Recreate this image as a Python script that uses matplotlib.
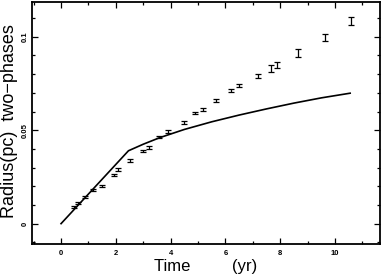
import matplotlib
matplotlib.use("Agg")
import matplotlib.pyplot as plt
from matplotlib.ticker import MultipleLocator

# measured radii with error bars
t_obs = [0.49, 0.63, 0.88, 1.16, 1.49, 1.92, 2.09, 2.51, 3.0, 3.22, 3.59, 3.92,
         4.48, 4.90, 5.17, 5.67, 6.20, 6.50, 7.20, 7.65, 7.89, 8.66, 9.62, 10.59]
r_obs = [0.0089, 0.0109, 0.0144, 0.0179, 0.0203, 0.0260, 0.0290, 0.0337, 0.0389, 0.0406,
         0.0462, 0.0492, 0.0542, 0.0592, 0.0612, 0.0658, 0.0713, 0.0738, 0.0790, 0.0831,
         0.0849, 0.0914, 0.0997, 0.1084]
r_err = [0.0005, 0.0005, 0.0005, 0.0005, 0.0005, 0.0006, 0.0006, 0.0007, 0.0007, 0.0007,
         0.0006, 0.0008, 0.0007, 0.0008, 0.0008, 0.0008, 0.0008, 0.0009, 0.0012, 0.0020,
         0.0015, 0.0020, 0.0019, 0.0020]

# model curve
t_model = [0, 2.46, 3.0, 3.6, 4.5, 5.5, 6.5, 7.5, 8.5, 9.5, 10.55]
r_model = [0, 0.039, 0.0425, 0.046, 0.0504, 0.0545, 0.0581, 0.0614, 0.0645, 0.0673, 0.0698]

plt.rcParams['font.family'] = ['Liberation Sans', 'DejaVu Sans']

fig = plt.figure(figsize=(3.82, 2.76), dpi=100)
ax = fig.add_axes([0.0838, 0.1159, 0.911, 0.8769])

ax.plot(t_model, r_model, color="black", lw=1.2)
ax.errorbar(t_obs, r_obs, yerr=r_err, fmt="none", ecolor="black",
            elinewidth=0.9, capsize=2.2, capthick=0.9)

ax.set_xlim(-1.06, 11.64)
ax.set_ylim(-0.0109, 0.1186)
ax.xaxis.set_major_locator(MultipleLocator(2))
ax.xaxis.set_minor_locator(MultipleLocator(1))
ax.yaxis.set_major_locator(MultipleLocator(0.05))
ax.yaxis.set_minor_locator(MultipleLocator(0.01))
ax.set_yticks([0, 0.05, 0.1])
ax.set_yticklabels(["0", "0.05", "0.1"])
ax.tick_params(which="both", direction="in", top=True, right=True, width=0.9)
ax.tick_params(which="major", length=4, labelsize=5.5)
ax.tick_params(axis="x", which="major", pad=4)
ax.tick_params(axis="y", which="major", pad=2)
for lab in ax.get_xticklabels() + ax.get_yticklabels():
    lab.set_fontweight("bold")
for lab in ax.get_yticklabels():
    lab.set_rotation(90)
    lab.set_verticalalignment("center")
for s in ax.spines.values():
    s.set_linewidth(1.3)

ax.set_xlabel("Time         (yr)", fontsize=12, labelpad=2)
fig.text(0.026, 0.562, "Radius(pc)  two\u2212phases", fontsize=13, rotation=90,
         ha="center", va="center")

fig.savefig("out.png", dpi=100)
